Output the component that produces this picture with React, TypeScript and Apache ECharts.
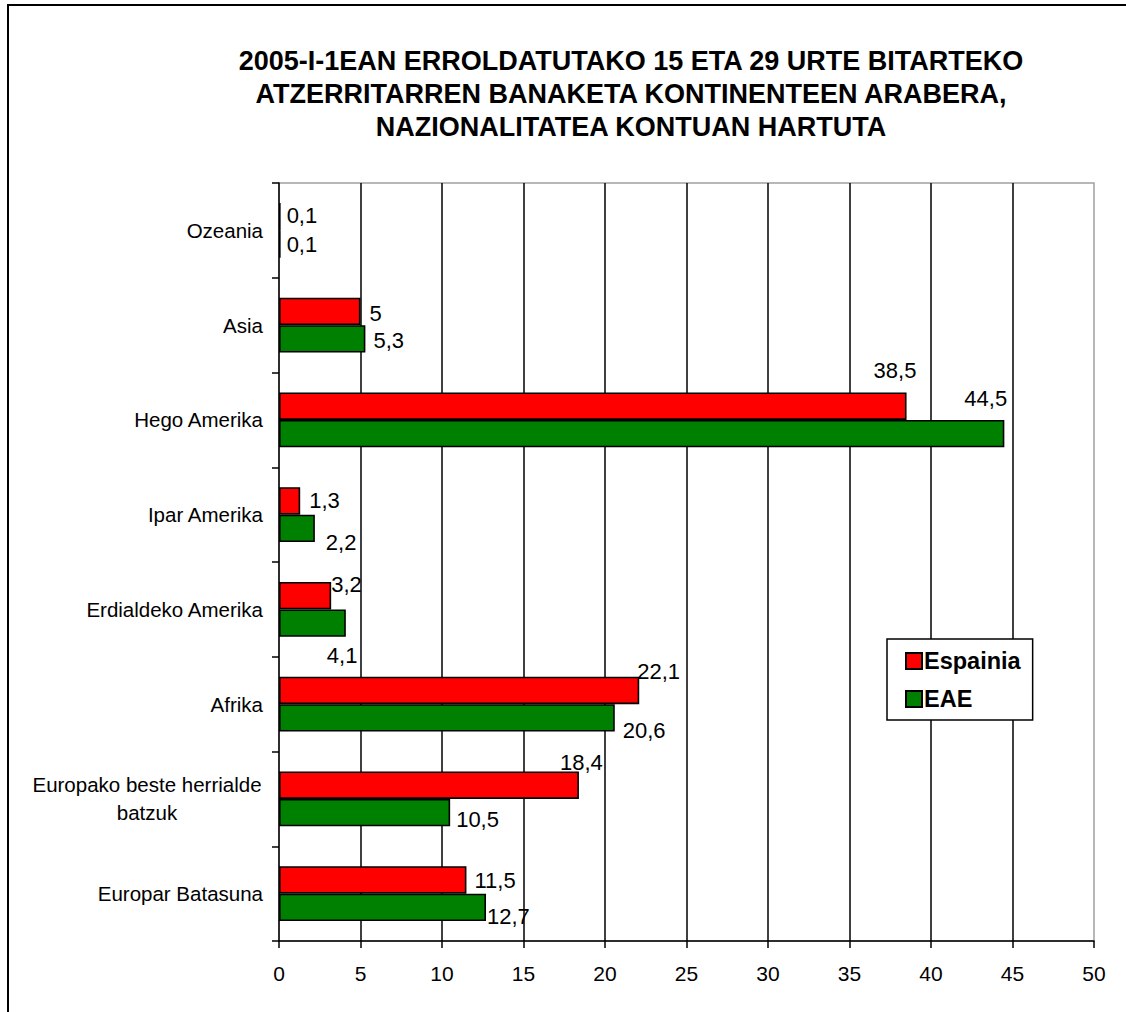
import React, { useEffect, useRef } from "react";
import * as echarts from "echarts";

const TITLE_LINES = [
  "2005-I-1EAN ERROLDATUTAKO 15 ETA 29 URTE BITARTEKO",
  "ATZERRITARREN BANAKETA KONTINENTEEN ARABERA,",
  "NAZIONALITATEA KONTUAN HARTUTA",
];

// bottom to top
const categories = [
  "Europar Batasuna",
  "Europako beste herrialde batzuk",
  "Afrika",
  "Erdialdeko Amerika",
  "Ipar Amerika",
  "Hego Amerika",
  "Asia",
  "Ozeania",
];
const espainia = [11.5, 18.4, 22.1, 3.2, 1.3, 38.5, 5, 0.1];
const eae = [12.7, 10.5, 20.6, 4.1, 2.2, 44.5, 5.3, 0.1];
const xTicks = { min: 0, max: 50, interval: 5 };

// label offsets (style only), in category order
const espOffsets: [number, number][] = [
  [3, 1], [-24, -23], [-7, -19], [-5, -11], [4, 0], [-38, -36], [4, 2], [1, -1],
];
const eaeOffsets: [number, number][] = [
  [-4, 9], [1, 7], [3, 13], [-24, 32], [6, 14], [-45, -35], [3, 2], [1, 0],
];

const FONT = "'Liberation Sans', Arial, sans-serif";

export default function App() {
  const ref = useRef<HTMLDivElement>(null);
  useEffect(() => {
    if (!ref.current) return;
    const chart = echarts.init(ref.current, null, { renderer: "svg" });
    const fmt = (p: any) => String(p.value).replace(".", ",");
    const mk = (name: string, vals: number[], color: string, offs: [number, number][]) => ({
      name,
      type: "bar",
      barGap: "0%",
      barCategoryGap: "42%",
      itemStyle: { color, borderColor: "#000", borderWidth: 1.6 },
      label: {
        show: true,
        position: "right",
        distance: 5,
        formatter: fmt,
        fontSize: 22,
        fontFamily: FONT,
        color: "#000",
      },
      data: vals.map((v, i) => ({ value: v, label: { offset: offs[i] } })),
    });
    chart.setOption({
      animation: false,
      textStyle: { fontFamily: FONT },
      graphic: [
        {
          type: "rect",
          shape: { x: 8, y: 5, width: 1300, height: 1200 },
          style: { fill: "none", stroke: "#000", lineWidth: 2 },
          silent: true,
        },
        {
          type: "text",
          x: 631,
          y: 44,
          style: {
            text: TITLE_LINES.join("\n"),
            font: `bold 27px ${FONT}`,
            textAlign: "center",
            lineHeight: 33,
            fill: "#000",
          },
        },
      ],
      legend: {
        orient: "vertical",
        left: 887,
        top: 639,
        data: ["Espainia", "EAE"],
        icon: "rect",
        itemWidth: 16,
        itemHeight: 16,
        itemGap: 14,
        padding: [10, 12, 9, 18],
        borderColor: "#000",
        borderWidth: 1.5,
        backgroundColor: "#fff",
        textStyle: { fontSize: 23.5, fontWeight: "bold", color: "#000", fontFamily: FONT, padding: [0, 0, 0, -3] },
      },
      grid: {
        left: 279,
        right: 32,
        top: 183,
        bottom: 71,
        show: true,
        borderColor: "#a0a0a0",
        borderWidth: 1.5,
        backgroundColor: "transparent",
      },
      xAxis: {
        type: "value",
        min: xTicks.min,
        max: xTicks.max,
        interval: xTicks.interval,
        axisLine: { show: true, lineStyle: { color: "#000", width: 1.5 } },
        axisTick: { show: true, length: 7, lineStyle: { color: "#000", width: 1.5 } },
        axisLabel: { fontSize: 21, color: "#000", margin: 22, fontFamily: FONT },
        splitLine: { show: true, showMinLine: false, showMaxLine: false, lineStyle: { color: "#000", width: 1.5 } },
      },
      yAxis: {
        type: "category",
        data: categories,
        axisLine: { show: true, lineStyle: { color: "#000", width: 1.5 } },
        axisTick: { show: true, length: 7, lineStyle: { color: "#000", width: 1.5 } },
        axisLabel: {
          fontSize: 20.5,
          color: "#000",
          margin: 16,
          fontFamily: FONT,
          lineHeight: 28,
          formatter: (v: string) =>
            v === "Europako beste herrialde batzuk"
              ? "{w|Europako beste herrialde}\n{w|batzuk}"
              : v,
          rich: {
            w: { width: 232, align: "center", fontSize: 20.5, lineHeight: 28, color: "#000", fontFamily: FONT },
          },
        },
        splitLine: { show: false },
      },
      series: [mk("Espainia", espainia, "#ff0000", espOffsets), mk("EAE", eae, "#008000", eaeOffsets)],
    });
    return () => chart.dispose();
  }, []);
  return (
    <div
      ref={ref}
      style={{ position: "absolute", left: 0, top: 0, width: 1126, height: 1012, background: "#fff" }}
    />
  );
}
